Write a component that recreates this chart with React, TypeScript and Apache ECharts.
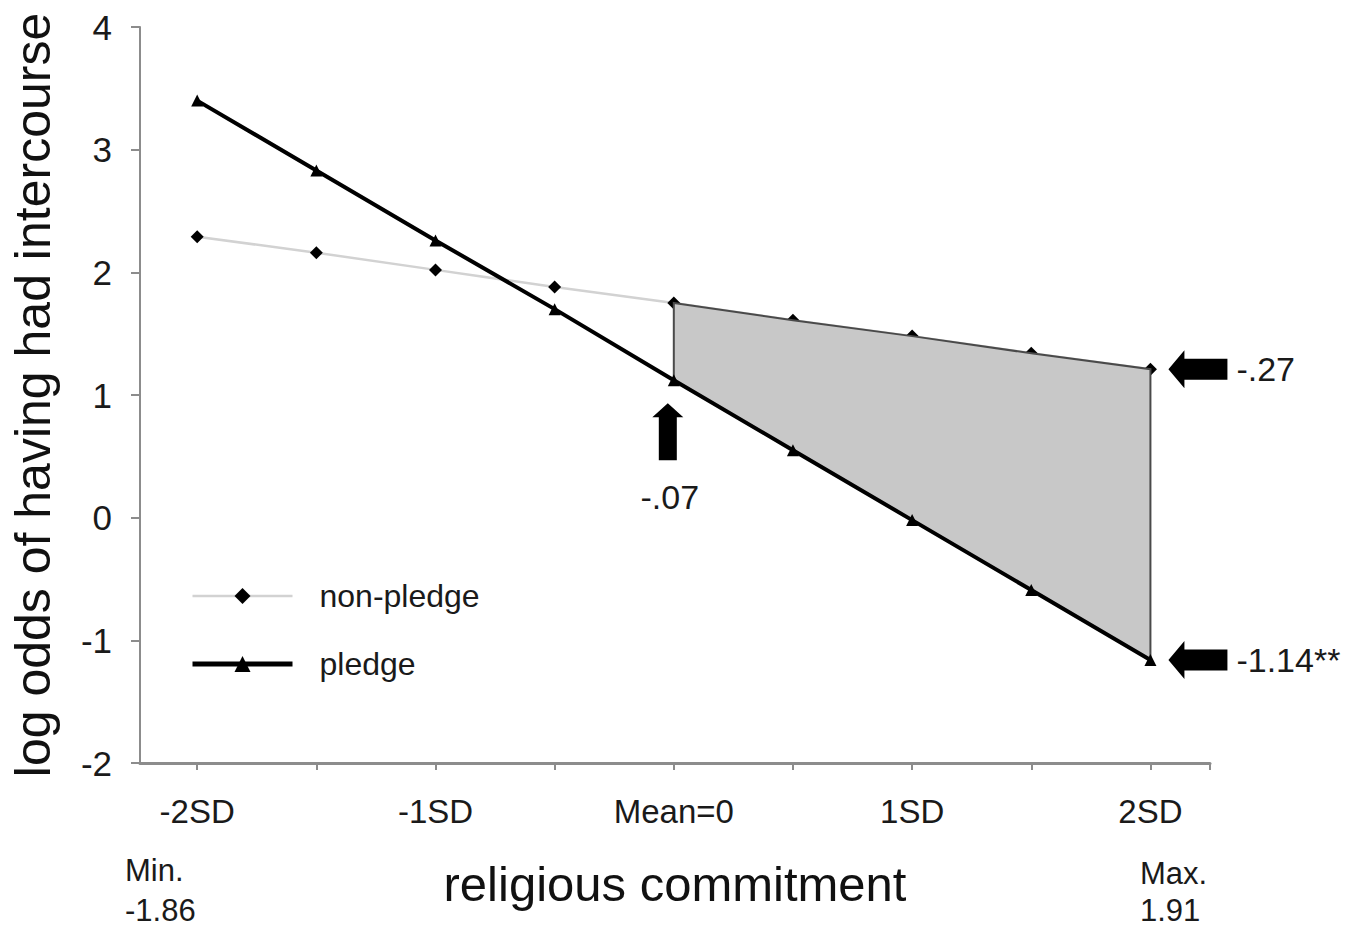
import React, { useEffect, useRef } from "react";
import * as echarts from "echarts";

// x positions (in SD units of religious commitment)
const xValues = [-2, -1.5, -1, -0.5, 0, 0.5, 1, 1.5, 2];
const tickValues = [-2, -1.5, -1, -0.5, 0, 0.5, 1, 1.5, 2, 2.25];
const labeledTicks = [-2, -1, 0, 1, 2];
const tickLabels = ["-2SD", "-1SD", "Mean=0", "1SD", "2SD"];

// log odds of having had intercourse
const nonPledge = [2.29, 2.16, 2.02, 1.88, 1.75, 1.61, 1.48, 1.34, 1.21];
const pledge = [3.4, 2.83, 2.26, 1.7, 1.12, 0.55, -0.02, -0.59, -1.16];

// slope annotations
const annotX = [2, 2, 0];
const annotY = [1.21, -1.16, 1.12];
const annotDir = ["left", "left", "up"];
const annotText = ["-.27", "-1.14**", "-.07"];

const FONT = "'Liberation Sans', Arial, Helvetica, sans-serif";
const TXT = "#1a1a1a";

export default function App() {
  const ref = useRef<HTMLDivElement>(null);

  useEffect(() => {
    document.body.style.margin = "0";
    const chart = echarts.init(ref.current!, null, { renderer: "svg" });

    const option: any = {
      animation: false,
      backgroundColor: "#ffffff",
      textStyle: { fontFamily: FONT },
      grid: { left: 140, right: 161, top: 27, bottom: 172, containLabel: false },
      legend: {
        orient: "vertical",
        left: 190,
        top: 576,
        padding: 0,
        itemWidth: 100,
        itemHeight: 20,
        itemGap: 28,
        data: [
          { name: "non-pledge", lineStyle: { color: "#d2d2d2", width: 2.5 } },
          { name: "pledge", lineStyle: { color: "#000", width: 5 } },
        ],
        textStyle: {
          fontSize: 32,
          color: TXT,
          fontFamily: FONT,
          padding: [0, 0, 0, 22],
          lineHeight: 40,
        },
      },
      xAxis: {
        type: "value",
        min: -2.24,
        max: 2.25,
        splitLine: { show: false },
        axisLine: { show: true, onZero: false, lineStyle: { color: "#8c8c8c", width: 3 } },
        axisTick: {
          show: true,
          customValues: tickValues,
          length: 7,
          lineStyle: { color: "#8c8c8c", width: 2 },
        },
        axisLabel: {
          customValues: labeledTicks,
          formatter: (v: number) => {
            const i = labeledTicks.findIndex((t) => Math.abs(t - v) < 1e-6);
            return i >= 0 ? tickLabels[i] : "";
          },
          fontSize: 33,
          color: TXT,
          fontFamily: FONT,
          margin: 32,
        },
        name: "religious commitment",
        nameLocation: "middle",
        nameGap: 96,
        nameTextStyle: { fontSize: 49, color: "#111", fontFamily: FONT },
      },
      yAxis: {
        type: "value",
        min: -2,
        max: 4,
        interval: 1,
        splitLine: { show: false },
        axisLine: { show: true, onZero: false, lineStyle: { color: "#8c8c8c", width: 2 } },
        axisTick: { show: true, length: 9, lineStyle: { color: "#8c8c8c", width: 2 } },
        axisLabel: { fontSize: 35, color: TXT, fontFamily: FONT, margin: 28 },
        name: "log odds of having had intercourse",
        nameLocation: "middle",
        nameRotate: 90,
        nameGap: 82,
        nameTextStyle: { fontSize: 50, color: "#111", fontFamily: FONT },
      },
      series: [
        {
          name: "non-pledge",
          type: "line",
          z: 2,
          data: xValues.map((x, i) => [x, nonPledge[i]]),
          symbol: "diamond",
          symbolSize: 13,
          showAllSymbol: true,
          itemStyle: { color: "#000" },
          lineStyle: { color: "#d2d2d2", width: 2.5 },
        },
        {
          name: "shading",
          type: "custom",
          z: 3,
          silent: true,
          clip: false,
          data: [[0, 0]],
          renderItem: (params: any, api: any) => {
            const pts: number[][] = [];
            xValues.forEach((x, i) => {
              if (x >= 0) pts.push(api.coord([x, nonPledge[i]]));
            });
            for (let i = xValues.length - 1; i >= 0; i--) {
              if (xValues[i] >= 0) pts.push(api.coord([xValues[i], pledge[i]]));
            }
            return {
              type: "polygon",
              shape: { points: pts },
              style: { fill: "#c8c8c8", stroke: "#4a4a4a", lineWidth: 2 },
            };
          },
        },
        {
          name: "pledge",
          type: "line",
          z: 4,
          data: xValues.map((x, i) => [x, pledge[i]]),
          symbol: "triangle",
          symbolSize: 12,
          showAllSymbol: true,
          itemStyle: { color: "#000" },
          lineStyle: { color: "#000", width: 4 },
        },
        {
          name: "annotations",
          type: "custom",
          z: 5,
          silent: true,
          clip: false,
          data: annotX.map((x, i) => [x, annotY[i], i]),
          renderItem: (params: any, api: any) => {
            const i = api.value(2);
            const [px, py] = api.coord([api.value(0), api.value(1)]);
            if (annotDir[i] === "left") {
              const tip = px + 18;
              const base = px + 34;
              const end = px + 77;
              return {
                type: "group",
                children: [
                  {
                    type: "polygon",
                    shape: {
                      points: [
                        [tip, py],
                        [base, py - 19],
                        [base, py - 10.5],
                        [end, py - 10.5],
                        [end, py + 10.5],
                        [base, py + 10.5],
                        [base, py + 19],
                      ],
                    },
                    style: { fill: "#000" },
                  },
                  {
                    type: "text",
                    style: {
                      text: annotText[i],
                      x: px + 86,
                      y: py,
                      align: "left",
                      verticalAlign: "middle",
                      fontSize: 34,
                      fontFamily: FONT,
                      fill: TXT,
                    },
                  },
                ],
              };
            }
            const cx = px - 6;
            const tipY = py + 23;
            const baseY = py + 37;
            const endY = py + 80;
            return {
              type: "group",
              children: [
                {
                  type: "polygon",
                  shape: {
                    points: [
                      [cx, tipY],
                      [cx + 15.5, baseY],
                      [cx + 9, baseY],
                      [cx + 9, endY],
                      [cx - 9, endY],
                      [cx - 9, baseY],
                      [cx - 15.5, baseY],
                    ],
                  },
                  style: { fill: "#000" },
                },
                {
                  type: "text",
                  style: {
                    text: annotText[i],
                    x: cx + 2,
                    y: py + 117,
                    align: "center",
                    verticalAlign: "middle",
                    fontSize: 34,
                    fontFamily: FONT,
                    fill: TXT,
                  },
                },
              ],
            };
          },
        },
      ],
      graphic: [
        {
          type: "text",
          left: 125,
          top: 850,
          style: {
            text: "Min.\n-1.86",
            fontSize: 31,
            lineHeight: 40,
            fontFamily: FONT,
            fill: TXT,
          },
        },
        {
          type: "text",
          left: 1140,
          top: 855,
          style: {
            text: "Max.\n1.91",
            fontSize: 31,
            lineHeight: 37,
            fontFamily: FONT,
            fill: TXT,
          },
        },
      ],
    };

    chart.setOption(option);
    return () => chart.dispose();
  }, []);

  return <div ref={ref} style={{ width: 1371, height: 935 }} />;
}
